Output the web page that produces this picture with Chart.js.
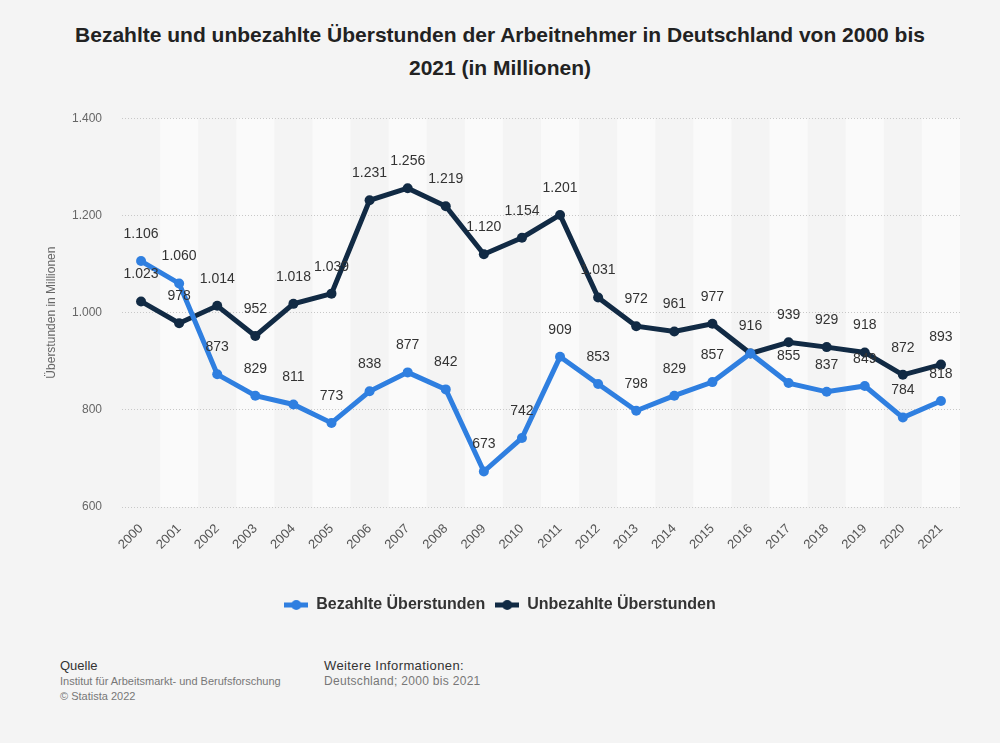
<!DOCTYPE html>
<html>
<head>
<meta charset="utf-8">
<script src="https://cdn.jsdelivr.net/npm/chart.js@4/dist/chart.umd.min.js"></script>
<style>
    body { margin: 0; background: #f4f4f4; font-family: "Liberation Sans", Arial, sans-serif; }
    #title { position: absolute; top: 18px; left: 20px; width: 960px; text-align: center;
             font-weight: bold; font-size: 21px; line-height: 33px; color: #222; }
    #wrap { position: absolute; top: 91px; left: 0; width: 1000px; height: 532px; }
    .foot { position: absolute; font-size: 11px; line-height: 15px; color: #777; }
    .foot b { font-weight: normal; color: #333; font-size: 13px; }
</style>
</head>
<body>
<div id="title">Bezahlte und unbezahlte Überstunden der Arbeitnehmer in Deutschland von 2000 bis<br>2021 (in Millionen)</div>
<div id="wrap"><canvas id="chart"></canvas></div>
<div class="foot" style="left:60px; top:658px;"><b>Quelle</b><br>Institut für Arbeitsmarkt- und Berufsforschung<br>© Statista 2022</div>
<div class="foot" style="left:324px; top:658px;"><b style="letter-spacing:0.4px">Weitere Informationen:</b><br><span style="font-size:12px; letter-spacing:0.3px">Deutschland; 2000 bis 2021</span></div>
<script>
// Data
const years = ['2000', '2001', '2002', '2003', '2004', '2005', '2006', '2007', '2008', '2009', '2010',
    '2011', '2012', '2013', '2014', '2015', '2016', '2017', '2018', '2019', '2020', '2021'];
const paid = [1106, 1060, 873, 829, 811, 773, 838, 877, 842, 673, 742,
    909, 853, 798, 829, 857, 916, 855, 837, 849, 784, 818];
const unpaid = [1023, 978, 1014, 952, 1018, 1039, 1231, 1256, 1219, 1120, 1154,
    1201, 1031, 972, 961, 977, 916, 939, 929, 918, 872, 893];
const yTicks = [600, 800, 1000, 1200, 1400];

const bluePaid = '#2f7fe0';
const navyUnpaid = '#112a44';

function fmt(v) {
    return String(v).replace(/\B(?=(\d{3})+(?!\d))/g, '.');
}

// legend marker: thick line with a dot
function marker(color) {
    const c = document.createElement('canvas');
    c.width = 24; c.height = 12;
    const ctx = c.getContext('2d');
    ctx.strokeStyle = color;
    ctx.lineWidth = 5;
    ctx.beginPath(); ctx.moveTo(0, 6); ctx.lineTo(24, 6); ctx.stroke();
    ctx.fillStyle = color;
    ctx.beginPath(); ctx.arc(12, 6, 5, 0, Math.PI * 2); ctx.fill();
    return c;
}

// alternating column bands
const bandPlugin = {
    id: 'bands',
    beforeDraw(chart) {
        const { ctx, chartArea, scales } = chart;
        const x = scales.x;
        const w = x.getPixelForValue(1) - x.getPixelForValue(0);
        ctx.save();
        ctx.fillStyle = '#fafafa';
        for (let i = 1; i < years.length; i += 2) {
            const cx = x.getPixelForValue(i);
            ctx.fillRect(cx - w / 2, chartArea.top, w, chartArea.bottom - chartArea.top);
        }
        ctx.restore();
    }
};

// value labels above points (same label at same spot only once)
const labelPlugin = {
    id: 'valueLabels',
    afterDatasetsDraw(chart) {
        const ctx = chart.ctx;
        const seen = new Set();
        ctx.save();
        ctx.font = '14px "Liberation Sans", Arial, sans-serif';
        ctx.fillStyle = '#333';
        ctx.textAlign = 'center';
        ctx.textBaseline = 'middle';
        chart.data.datasets.forEach((ds, di) => {
            chart.getDatasetMeta(di).data.forEach((pt, i) => {
                const key = i + ':' + ds.data[i];
                if (seen.has(key)) return;
                seen.add(key);
                ctx.fillText(fmt(ds.data[i]), pt.x, pt.y - 27);
            });
        });
        ctx.restore();
    }
};

new Chart(document.getElementById('chart'), {
    type: 'line',
    data: {
        labels: years,
        datasets: [
            {
                label: 'Bezahlte Überstunden',
                data: paid,
                borderColor: bluePaid,
                backgroundColor: bluePaid,
                borderWidth: 5,
                pointRadius: 5,
                pointHoverRadius: 5,
                pointBorderWidth: 0,
                pointStyle: 'circle',
                tension: 0
            },
            {
                label: 'Unbezahlte Überstunden',
                data: unpaid,
                borderColor: navyUnpaid,
                backgroundColor: navyUnpaid,
                borderWidth: 5,
                pointRadius: 5,
                pointHoverRadius: 5,
                pointBorderWidth: 0,
                pointStyle: 'circle',
                tension: 0
            }
        ]
    },
    options: {
        responsive: true,
        maintainAspectRatio: false,
        animation: false,
        layout: { padding: { left: 40, right: 40, top: 9, bottom: 0 } },
        plugins: {
            tooltip: { enabled: false },
            legend: {
                position: 'bottom',
                labels: {
                    usePointStyle: true,
                    pointStyleWidth: 24,
                    padding: 10,
                    color: '#333',
                    font: { family: '"Liberation Sans", Arial, sans-serif', size: 16, weight: 'bold' },
                    generateLabels(chart) {
                        return chart.data.datasets.map((ds, i) => ({
                            text: ds.label,
                            pointStyle: marker(ds.borderColor),
                            fillStyle: ds.borderColor,
                            strokeStyle: ds.borderColor,
                            lineWidth: 0,
                            fontColor: '#333',
                            datasetIndex: i
                        }));
                    }
                }
            }
        },
        scales: {
            x: {
                offset: true,
                grid: { display: false },
                border: { display: false },
                ticks: {
                    minRotation: 45,
                    maxRotation: 45,
                    padding: 6,
                    color: '#555',
                    font: { family: '"Liberation Sans", Arial, sans-serif', size: 13 }
                },
                afterFit(scale) { scale.height = 80; }
            },
            y: {
                min: 600,
                max: 1400,
                afterBuildTicks(scale) { scale.ticks = yTicks.map(v => ({ value: v })); },
                grid: { color: '#c8c8c8', drawTicks: false },
                border: { display: false, dash: [1, 2] },
                ticks: {
                    padding: 20,
                    color: '#666',
                    font: { family: '"Liberation Sans", Arial, sans-serif', size: 12 },
                    callback: v => fmt(v)
                },
                title: {
                    display: true,
                    text: 'Überstunden in Millionen',
                    color: '#666',
                    font: { family: '"Liberation Sans", Arial, sans-serif', size: 12 }
                },
                afterFit(scale) { scale.width = 82; }
            }
        }
    },
    plugins: [bandPlugin, labelPlugin]
});
</script>
</body>
</html>
